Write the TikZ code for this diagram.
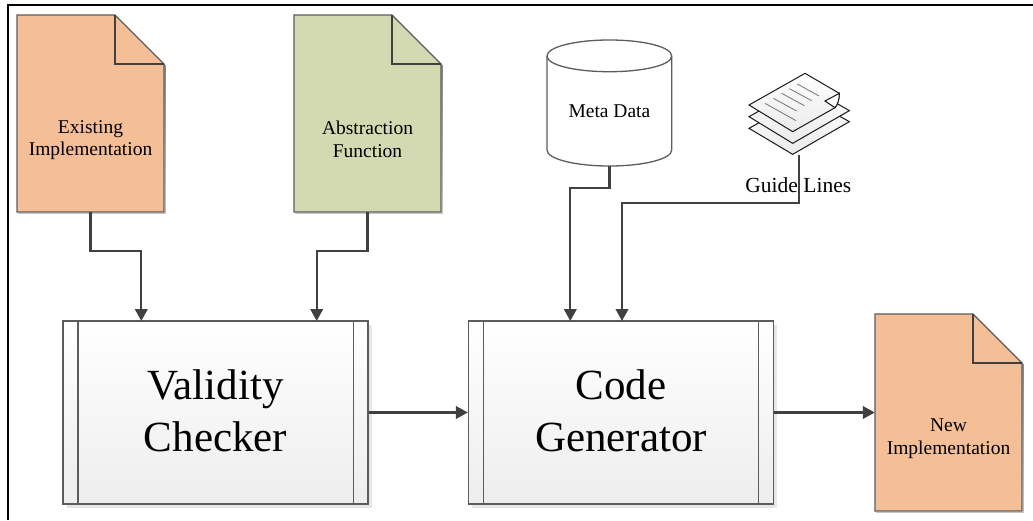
\documentclass[tikz,border=0pt]{standalone}
\usepackage{fontspec}
\setmainfont{Liberation Serif}
\usetikzlibrary{arrows.meta,shadows}
\definecolor{peach}{HTML}{F4BE96}
\definecolor{sage}{HTML}{D3DAB2}
\definecolor{edge}{HTML}{5C5C5C}
\definecolor{conn}{HTML}{404040}
\definecolor{shade}{HTML}{E6E6E6}
\tikzset{
  smalltxt/.style={font=\fontsize{19.5pt}{22.7pt}\selectfont,align=center,inner sep=0pt,text=black},
  guidetxtstyle/.style={font=\fontsize{21.5pt}{24pt}\selectfont,align=center,inner sep=0pt,text=black},
  bigtxt/.style={font=\fontsize{43pt}{52pt}\selectfont,align=center,inner sep=0pt,text=black},
  flowline/.style={draw=conn,line width=2.3pt,-{Triangle[length=12pt,width=12.5pt]}},
  shapeline/.style={draw=edge,line width=1.3pt,line join=miter},
  procbox/.style={rectangle,shapeline,top color=white,bottom color=black!7,
    minimum width=305pt,minimum height=183pt,bigtxt,
    general shadow={fill=shade,shadow xshift=3.5pt,shadow yshift=-3.5pt}},
  sheet/.style={draw=black!90,line width=1pt,top color=white,bottom color=black!8},
}
\newcommand{\docshape}[5]{% cx, cy, w, h, fill
  \begin{scope}[xshift=#1pt,yshift=-#2pt]
    \fill[shade] (-#3/2+1.5,-#4/2+1.5) -- (#3/2-49+1.5,-#4/2+1.5) -- (#3/2+1.5,-#4/2+49+1.5) -- (#3/2+1.5,#4/2+1.5) -- (-#3/2+1.5,#4/2+1.5) -- cycle;
    \path[shapeline,fill=#5] (-#3/2,-#4/2) -- (#3/2-49,-#4/2) -- (#3/2,-#4/2+49) -- (#3/2,#4/2) -- (-#3/2,#4/2) -- cycle;
    \draw[draw=conn,line width=1.5pt] (#3/2-49,-#4/2) -- (#3/2-49,-#4/2+49) -- (#3/2,-#4/2+49);
  \end{scope}
}
\begin{document}
\begin{tikzpicture}[x=1pt,y=-1pt]
\useasboundingbox (0,0) rectangle (1033,520);
% frame
\draw[black,line width=2pt] (8.3,520) -- (8.3,5.3) -- (1033,5.3);

% documents
\docshape{90.5}{113.5}{147}{197}{peach}
\node[minimum width=147pt,minimum height=197pt,inner sep=0pt] (impl) at (90.5,113.5) {};
\node[smalltxt] (impltxt) at (90.5,140) {Existing\\Implementation};
\docshape{367.5}{113.5}{147}{197}{sage}
\node[minimum width=147pt,minimum height=197pt,inner sep=0pt] (abs) at (367.5,113.5) {};
\node[smalltxt] (abstxt) at (367.5,139) {Abstraction\\Function};
\docshape{948.5}{412.5}{147}{197}{peach}
\node[minimum width=147pt,minimum height=197pt,inner sep=0pt] (new) at (948.5,412.5) {};
\node[smalltxt] (newtxt) at (948.5,439) {New\\Implementation};

% process boxes
\node[procbox] (vc) at (215.5,412.5) {Validity\\Checker\rule[-3pt]{0pt}{3pt}};
\node[procbox] (cg) at (621,412.5) {Code\\Generator\rule[-3pt]{0pt}{3pt}};
\foreach \b in {vc,cg}{
  \draw[shapeline] ([xshift=15.5pt]\b.north west) -- ([xshift=15.5pt]\b.south west);
  \draw[shapeline] ([xshift=-15.5pt]\b.north east) -- ([xshift=-15.5pt]\b.south east);
}

% cylinder
\path[shapeline,fill=white] (547,56) -- (547,150) .. controls (547,159) and (575,166) .. (609.4,166)
   .. controls (644,166) and (671.7,159) .. (671.7,150) -- (671.7,56)
   .. controls (671.7,47) and (644,40) .. (609.4,40) .. controls (575,40) and (547,47) .. (547,56) -- cycle;
\draw[shapeline] (547,56) .. controls (547,65) and (575,71.7) .. (609.4,71.7) .. controls (644,71.7) and (671.7,65) .. (671.7,56);
\node[minimum width=124.7pt,minimum height=126pt,inner sep=0pt] (meta) at (609.4,103) {};
\node[smalltxt] (metatxt) at (609.4,111) {Meta Data};

% guide-lines icon
\node[minimum width=100.3pt,minimum height=81pt,inner sep=0pt] (guide) at (799,113.8) {};
\begin{scope}[xshift=720pt,yshift=-60pt,x=0.33333pt,y=-0.33333pt]
  \path[sheet] (87,205) -- (218,283) -- (388,185) -- (255,110) -- cycle;
  \path[sheet] (87,170) -- (218,250) -- (388,152) -- (255,75) -- cycle;
  \path[sheet] (87,135) -- (255,40) -- (358,100) .. controls (358,120) and (352,135) .. (345,143) -- (218,215) -- cycle;
  \draw[draw=black!90,line width=1pt,fill=white] (358,100) -- (315,123) -- (345,143) .. controls (352,135) and (358,120) .. (358,100) -- cycle;
  \draw[black!50,line width=0.9pt] (232,72) -- (297,108) (208,86) -- (275,122) (185,100) -- (253,137) (160,115) -- (230,153) (135,130) -- (228,182);
\end{scope}
\node[guidetxtstyle] (guidetxt) at (798.3,185) {Guide Lines};

% connector waypoints
\coordinate (impldrop) at (141.3,321);
\coordinate (absdrop) at (316.7,321);
\coordinate (metadrop) at (570.3,321);
\coordinate (guidedrop) at (622,321);
\coordinate (bendA) at (0,250.7);
\coordinate (bendB) at (0,187.7);
\coordinate (bendC) at (0,202.7);

\draw[flowline] (impl.south) -- (impl.south |- bendA) -- (impldrop |- bendA) -- (impldrop);
\draw[flowline] (abs.south) -- (abs.south |- bendA) -- (absdrop |- bendA) -- (absdrop);
\draw[flowline] (meta.south) -- (meta.south |- bendB) -- (metadrop |- bendB) -- (metadrop);
\draw[flowline] (guide.south) -- (guide.south |- bendC) -- (guidedrop |- bendC) -- (guidedrop);
\draw[flowline] (vc.east) -- (cg.west);
\draw[flowline] (cg.east) -- (new.west);
\end{tikzpicture}
\end{document}
